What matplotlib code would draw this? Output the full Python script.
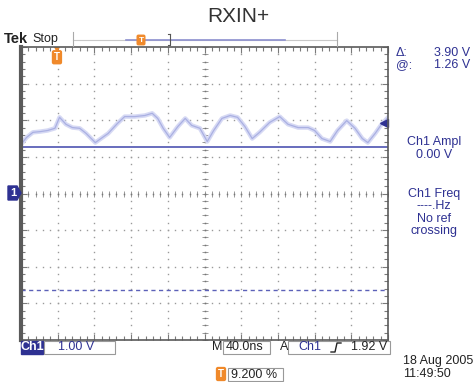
"""
plot.py

Tektronix scope capture: RXIN+ trace with cursors and readouts.
"""
import matplotlib
matplotlib.use('Agg')
import numpy as np
import matplotlib.pyplot as plt
import matplotlib.patches as mpatches

# Trace (time in ns from left edge, level in V)
trace_t = [1, 6, 13, 21, 29, 37, 42, 49, 56, 64, 71, 81, 86, 95, 105, 113, 124, 135, 143,
           149, 155, 162, 171, 179, 186, 195, 203, 210, 219, 228, 236, 244, 252, 260, 271,
           282, 291, 302, 313, 320, 328, 337, 345, 355, 364, 372, 378, 386, 393, 400]
trace_v = [1.37, 1.53, 1.67, 1.69, 1.72, 1.78, 2.08, 1.89, 1.80, 1.78, 1.64, 1.39, 1.48,
           1.64, 1.91, 2.10, 2.10, 2.13, 2.19, 2.05, 1.78, 1.53, 1.83, 2.05, 1.86, 1.78,
           1.42, 1.72, 2.05, 2.13, 2.08, 1.83, 1.50, 1.67, 1.94, 2.10, 1.89, 1.80, 1.80,
           1.72, 1.50, 1.42, 1.72, 1.99, 1.78, 1.50, 1.39, 1.64, 1.89, 2.08]

# Scope settings / readouts
ns_per_div = 40.0
v_per_div = 1.00
cursor_at = 1.26
cursor_delta = 3.90
trigger_level = 1.92
trigger_div = 0.98

W, H = 476, 382
NAVY = '#2e3192'
ORANGE = '#f0892a'
GRID = '#9a9a9a'
FRAME = '#5a5a5a'

plt.rcParams['font.family'] = ['Liberation Sans', 'DejaVu Sans']
fig = plt.figure(figsize=(W / 100.0, H / 100.0), dpi=100)


def fx(x):
    return x / float(W)


def fy(y):
    return 1 - y / float(H)


################################################################################
# Graticule
################################################################################
ax = fig.add_axes([fx(21), fy(340), (388 - 21) / float(W), (340 - 47) / float(H)])
ax.set_xlim(0, 10 * ns_per_div)
ax.set_ylim(-4 * v_per_div, 4 * v_per_div)

ax.set_xticks(np.arange(0, 10.01, 1) * ns_per_div)
ax.set_yticks(np.arange(-4, 4.01, 1) * v_per_div)
ax.set_xticks(np.arange(0, 10.01, 0.2) * ns_per_div, minor=True)
ax.set_yticks(np.arange(-4, 4.01, 0.2) * v_per_div, minor=True)
ax.tick_params(which='both', direction='in', top=True, right=True,
               labelbottom=False, labelleft=False, color='#7a7a7a', width=0.8)
ax.tick_params(which='major', length=4)
ax.tick_params(which='minor', length=3)
for side, spine in ax.spines.items():
    spine.set_color(FRAME)
    spine.set_linewidth(1.2)
ax.spines['left'].set_linewidth(3)

dots_x = np.arange(0, 10.01, 0.2) * ns_per_div
dots_y = np.arange(-4, 4.01, 0.2) * v_per_div
for i in range(1, 10):
    if i == 5:
        continue
    ax.plot([i * ns_per_div] * len(dots_y), dots_y, ls='none', marker='s', ms=1.0,
            mew=0, color=GRID)
for j in range(-3, 4):
    if j == 0:
        continue
    ax.plot(dots_x, [j * v_per_div] * len(dots_x), ls='none', marker='s', ms=1.0,
            mew=0, color=GRID)
# Centre cross with fine ticks
ax.plot(dots_x, [0] * len(dots_x), ls='none', marker='|', ms=4, mew=0.7, color=GRID)
ax.plot([5 * ns_per_div] * len(dots_y), dots_y, ls='none', marker='_', ms=4, mew=0.7, color=GRID)
ax.plot(dots_x, [0] * len(dots_x), ls='none', marker='s', ms=1.1, mew=0, color='#777777')
ax.plot([5 * ns_per_div] * len(dots_y), dots_y, ls='none', marker='s', ms=1.1, mew=0,
        color='#777777')

################################################################################
# Cursors and trace
################################################################################
ax.axhline(cursor_at, color='#5c61b8', lw=1.3)
ax.axhline(cursor_at - cursor_delta, color='#5c61b8', lw=1.0, ls=(0, (3, 2.5)))

ax.plot(trace_t, trace_v, color='#d6d9f4', lw=3.2, solid_joinstyle='round')
ax.plot(trace_t, trace_v, color='#aab0e2', lw=0.9, solid_joinstyle='round')

# Trigger level arrow (right edge)
ax.plot(10 * ns_per_div - 4, trigger_level, marker='<', ms=6, color=NAVY, clip_on=False)

# Trigger position marker (top)
ax.plot(trigger_div * ns_per_div, 4 * v_per_div - 0.08, marker='v', ms=5, color=ORANGE,
        clip_on=False, mew=0)
ax.text(trigger_div * ns_per_div, 3.72, 'T', ha='center', va='center', color='white',
        fontsize=7, fontweight='bold',
        bbox=dict(boxstyle='round,pad=0.15', fc=ORANGE, ec=ORANGE))

################################################################################
# Screen furniture
################################################################################
fig.text(fx(238), fy(16), 'RXIN+', ha='center', va='center', fontsize=15, color='#333333')

fig.text(fx(4), fy(39), 'Tek', ha='left', va='center', fontsize=10.5, fontweight='bold',
         color='#222222')
fig.text(fx(32), fy(39), 'Stop', ha='left', va='center', fontsize=9, color='#222222')

# Record view bar
fig.add_artist(plt.Line2D([fx(73), fx(337)], [fy(40), fy(40)], color='#c8c8c8', lw=0.8))
fig.add_artist(plt.Line2D([fx(126), fx(285)], [fy(40), fy(40)], color='#8c90cf', lw=1.2))
fig.add_artist(plt.Line2D([fx(73), fx(73)], [fy(32), fy(46)], color='#aaaaaa', lw=0.8))
fig.add_artist(plt.Line2D([fx(337), fx(337)], [fy(32), fy(46)], color='#aaaaaa', lw=0.8))
fig.add_artist(plt.Line2D([fx(170), fx(170), fx(168)], [fy(34), fy(45), fy(45)],
                          color='#555555', lw=0.8))
fig.add_artist(plt.Line2D([fx(170), fx(168)], [fy(34), fy(34)], color='#555555', lw=0.8))
fig.text(fx(141), fy(40), 'T', ha='center', va='center', color='white', fontsize=6,
         fontweight='bold', bbox=dict(boxstyle='round,pad=0.15', fc=ORANGE, ec=ORANGE))

# Channel 1 ground marker
fig.add_artist(mpatches.Polygon(
    [(fx(8), fy(186)), (fx(17), fy(186)), (fx(21), fy(193)), (fx(17), fy(200)), (fx(8), fy(200))],
    closed=True, fc=NAVY, ec=NAVY, transform=fig.transFigure))
fig.text(fx(13), fy(193), '1', ha='center', va='center', color='white', fontsize=8,
         fontweight='bold')

# Cursor readouts
fig.text(fx(396), fy(53), '\u0394:', ha='left', va='center', fontsize=9, color=NAVY)
fig.text(fx(470), fy(53), '%.2f V' % cursor_delta, ha='right', va='center', fontsize=9,
         color=NAVY)
fig.text(fx(396), fy(65), '@:', ha='left', va='center', fontsize=9, color=NAVY)
fig.text(fx(470), fy(65), '%.2f V' % cursor_at, ha='right', va='center', fontsize=9,
         color=NAVY)

# Measurements
for y, s in [(142, 'Ch1 Ampl'), (155, '0.00 V'), (194, 'Ch1 Freq'),
             (206, '----.Hz'), (219, 'No ref'), (231, 'crossing')]:
    fig.text(fx(434), fy(y), s, ha='center', va='center', fontsize=9, color=NAVY)

# Bottom status line
fig.add_artist(mpatches.Rectangle((fx(21), fy(354)), 22 / float(W), 13 / float(H),
                                  fc=NAVY, ec=NAVY, transform=fig.transFigure))
fig.text(fx(32), fy(347.5), 'Ch1', ha='center', va='center', fontsize=9, color='white',
         fontweight='bold')
fig.add_artist(mpatches.Rectangle((fx(44), fy(354)), 71 / float(W), 13 / float(H),
                                  fc='none', ec='#999999', lw=0.8, transform=fig.transFigure))
fig.text(fx(58), fy(347.5), '%.2f V' % v_per_div, ha='left', va='center', fontsize=9,
         color=NAVY)

fig.text(fx(212), fy(347.5), 'M', ha='left', va='center', fontsize=9, color='#222222')
fig.add_artist(mpatches.Rectangle((fx(223), fy(354)), 47 / float(W), 13 / float(H),
                                  fc='none', ec='#999999', lw=0.8, transform=fig.transFigure))
fig.text(fx(226), fy(347.5), '%.1fns' % ns_per_div, ha='left', va='center', fontsize=9,
         color='#222222')
fig.text(fx(280), fy(347.5), 'A', ha='left', va='center', fontsize=9, color='#222222')
fig.add_artist(mpatches.Rectangle((fx(288), fy(354)), 102 / float(W), 13 / float(H),
                                  fc='none', ec='#999999', lw=0.8, transform=fig.transFigure))
fig.text(fx(298), fy(347.5), 'Ch1', ha='left', va='center', fontsize=9, color=NAVY)
fig.add_artist(plt.Line2D([fx(331), fx(335), fx(337), fx(341)],
                          [fy(352), fy(352), fy(343), fy(343)], color='#222222', lw=1.0))
fig.text(fx(387), fy(347.5), '%.2f V' % trigger_level, ha='right', va='center', fontsize=9,
         color='#222222')

fig.text(fx(221), fy(374), 'T', ha='center', va='center', color='white', fontsize=7,
         fontweight='bold', bbox=dict(boxstyle='round,pad=0.15', fc=ORANGE, ec=ORANGE))
fig.add_artist(mpatches.Rectangle((fx(228), fy(381)), 55 / float(W), 13 / float(H),
                                  fc='none', ec='#999999', lw=0.8, transform=fig.transFigure))
fig.text(fx(231), fy(374.5), '9.200 %', ha='left', va='center', fontsize=9, color='#222222')

fig.text(fx(403), fy(361), '18 Aug 2005', ha='left', va='center', fontsize=9, color='#222222')
fig.text(fx(403), fy(374), '11:49:50', ha='left', va='center', fontsize=9, color='#222222')

fig.savefig('out.png', dpi=100)
plt.close(fig)
